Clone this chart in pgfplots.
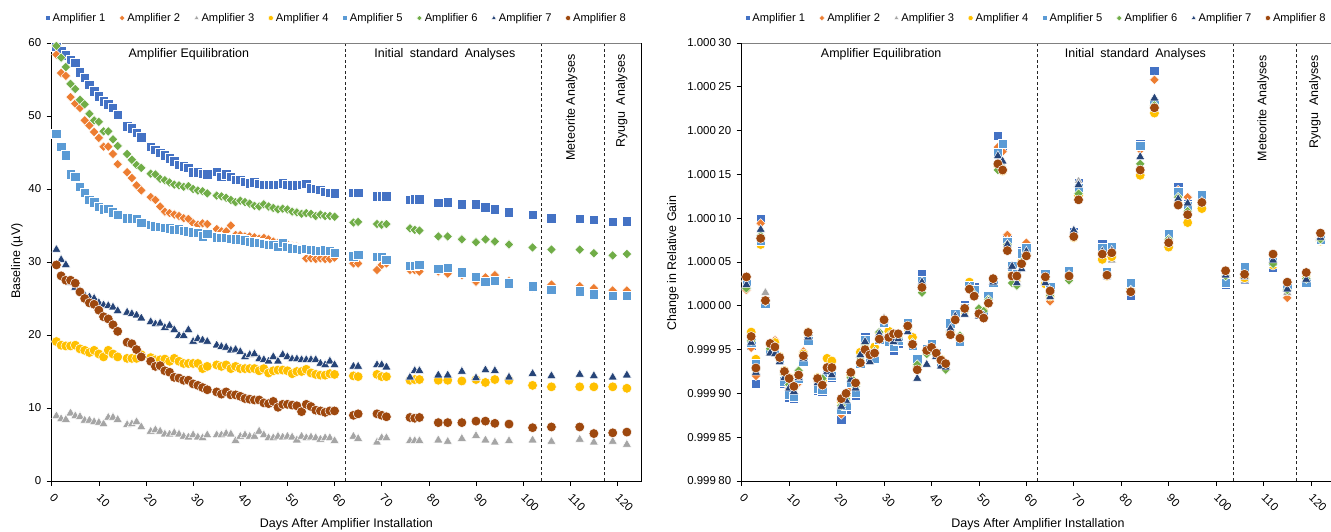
\documentclass[border=0pt]{standalone}
\usepackage{pgfplots}
\pgfplotsset{compat=1.18}
\usepackage{pgfplotstable}
\usepackage{fontspec}
\setmainfont{Liberation Sans}

\definecolor{c1}{HTML}{4472C4}
\definecolor{c2}{HTML}{ED7D31}
\definecolor{c3}{HTML}{A5A5A5}
\definecolor{c4}{HTML}{FFC000}
\definecolor{c5}{HTML}{5B9BD5}
\definecolor{c6}{HTML}{70AD47}
\definecolor{c7}{HTML}{264478}
\definecolor{c8}{HTML}{9E480E}

\newcommand\g{\hspace{2.5bp}}

% Baseline (microvolt) per amplifier
\pgfplotstableread{
day a1 a2 a3 a4 a5 a6 a7 a8
1 59.5 58.4 8.9 19.1 47.6 59.6 31.7 29.6
2 58.9 55.9 8.5 18.6 45.8 58.0 30.3 28.1
3 58.3 55.5 8.4 18.5 44.6 56.7 29.6 27.5
4 57.7 52.6 9.3 18.5 42.0 54.4 27.2 27.5
5 57.3 51.7 8.9 18.6 41.7 53.7 26.5 27.1
6 56.0 51.1 8.8 18.1 40.3 52.2 26.0 25.9
7 55.2 49.4 8.3 17.9 39.5 51.6 25.4 25.0
8 54.3 48.7 8.3 17.6 38.5 50.3 25.2 24.4
9 53.4 47.8 8.1 17.9 38.2 49.4 25.0 24.2
10 52.7 47.0 8.0 17.4 37.6 49.2 24.4 23.4
11 52.0 45.8 7.8 17.0 37.2 47.9 24.1 22.5
12 51.6 45.8 8.7 17.9 37.3 47.9 24.0 22.2
13 51.1 44.8 8.7 17.4 36.8 46.8 23.8 21.4
14 50.2 43.4 8.4 17.0 36.5 45.9 23.3 20.5
16 48.6 42.3 7.7 16.8 36.0 44.8 23.1 19.0
17 48.3 41.5 7.8 16.8 36.0 44.0 22.9 18.8
18 47.7 40.5 8.1 16.8 35.9 43.3 22.7 18.0
19 47.1 39.8 7.4 17.3 35.4 42.9 22.3 17.0
21 45.8 38.9 6.8 16.9 35.1 42.1 21.8 16.4
22 45.4 38.5 7.0 16.6 34.9 42.0 21.5 15.7
23 45.0 37.6 6.8 16.6 34.8 41.4 21.6 15.8
24 44.6 36.9 6.4 16.7 34.7 41.2 21.0 15.1
25 44.2 36.7 6.4 16.4 34.6 40.9 21.3 14.9
26 43.8 36.5 6.6 16.8 34.4 40.6 20.7 14.2
27 43.3 36.3 6.4 16.4 34.5 40.5 19.9 14.1
28 43.1 36.0 6.1 16.1 34.3 40.3 19.9 13.8
29 42.9 35.9 6.0 16.1 34.2 40.4 20.7 13.8
30 42.3 35.3 6.3 16.1 34.1 40.0 19.1 13.3
31 42.3 35.1 6.0 16.1 34.0 39.8 19.5 13.1
32 42.1 35.3 5.9 15.4 33.5 39.7 19.3 12.8
33 42.0 35.2 6.3 15.7 33.9 39.4 19.1 12.5
35 42.4 34.5 6.3 15.9 33.4 39.1 18.6 12.2
36 41.7 34.2 6.3 15.7 33.3 39.0 18.4 11.9
37 42.0 34.2 6.5 15.9 33.3 38.8 18.3 12.2
38 41.7 35.0 6.4 15.4 33.2 38.5 17.9 11.8
39 41.3 33.7 5.5 15.7 33.1 38.2 18.0 11.8
40 41.3 33.7 6.1 15.4 33.1 38.4 17.7 11.6
41 41.0 33.5 6.3 15.4 33.0 38.2 17.0 11.3
42 40.8 33.5 6.1 15.4 32.8 38.0 17.3 11.2
43 40.9 33.4 6.1 15.4 32.7 37.7 17.4 11.1
44 40.7 33.2 6.8 15.1 32.6 37.6 16.7 11.1
45 40.6 33.3 6.3 15.4 32.5 37.9 16.6 10.7
46 40.6 33.1 5.9 14.8 32.4 37.6 16.4 10.6
47 40.6 32.8 5.9 15.1 32.4 37.4 17.0 10.9
48 40.6 32.6 6.1 15.2 32.1 37.2 16.4 10.1
49 40.8 32.5 6.0 15.2 32.6 37.3 17.3 10.5
50 40.6 32.4 6.1 15.1 32.1 37.2 17.0 10.5
51 40.5 32.2 6.0 14.7 31.9 36.9 16.7 10.4
52 40.5 32.1 5.6 15.0 31.8 36.8 16.7 10.3
53 40.6 31.9 6.1 15.0 31.7 36.6 16.6 9.5
54 40.7 30.5 5.9 15.3 31.8 36.7 16.6 10.5
55 40.1 30.5 6.0 14.8 31.7 36.6 16.6 10.2
56 40.0 30.4 5.9 14.6 31.6 36.3 16.6 9.7
57 39.9 30.5 5.7 14.5 31.5 36.5 16.1 9.6
58 39.6 30.4 5.9 14.5 31.6 36.3 15.9 9.4
59 39.5 30.4 5.9 14.7 31.5 36.3 16.4 9.6
60 39.4 30.6 5.5 14.6 31.3 36.2 15.9 9.6
64 39.5 29.8 6.1 14.4 30.8 35.4 15.7 9.0
65 39.5 29.8 5.8 14.3 31.0 35.5 15.7 9.2
69 39.0 28.9 5.3 14.6 30.7 35.2 15.9 9.2
70 39.0 29.6 5.9 14.3 30.7 35.1 15.9 9.0
71 39.0 29.8 5.9 14.3 30.3 35.2 15.6 8.8
76 38.5 28.9 5.5 13.8 29.5 34.6 14.2 8.7
77 38.6 28.9 5.5 13.9 29.5 34.4 15.1 8.6
78 38.6 28.7 5.5 13.9 29.6 34.3 15.1 8.7
82 38.1 28.7 5.6 13.8 29.1 33.5 14.5 8.0
84 38.2 28.4 5.4 13.8 29.2 33.5 14.5 8.0
87 37.9 28.2 5.8 13.7 28.6 33.1 15.0 8.0
90 37.9 27.3 6.2 13.9 28.0 32.7 14.1 8.2
92 37.5 27.9 5.6 13.5 27.3 33.1 15.2 8.2
94 37.2 28.2 5.3 13.9 27.4 32.8 15.1 7.9
97 36.8 27.4 5.5 13.8 27.1 32.4 14.2 7.8
102 36.5 26.5 5.6 13.1 26.7 32.0 14.7 7.3
106 36.0 26.9 5.4 12.9 26.2 31.7 14.4 7.4
112 35.9 26.7 5.7 12.9 26.0 31.7 14.6 7.4
115 35.8 26.4 5.3 12.9 25.6 31.2 14.4 6.5
119 35.5 26.1 5.4 12.9 25.4 30.9 14.2 6.6
122 35.6 26.1 5.0 12.7 25.4 31.1 14.5 6.7
}\baselinetab

% Relative gain, given as (gain - 1) x 1e5
\pgfplotstableread{
day a1 a2 a3 a4 a5 a6 a7 a8
1 2.6 1.8 2.2 2.8 2.5 2.0 2.4 3.3
2 -4.5 -4.8 -3.8 -3.0 -4.2 -4.0 -4.2 -3.5
3 -8.9 -8.0 -7.5 -6.1 -6.6 -7.3 -7.6 -7.1
4 9.9 9.4 8.2 7.0 7.4 8.0 8.7 7.7
5 0.5 0.4 1.5 0.6 0.3 0.5 0.6 0.6
6 -5.0 -4.6 -4.5 -4.4 -5.2 -4.9 -5.4 -4.3
7 -5.2 -3.9 -4.1 -4.2 -5.0 -4.6 -5.5 -4.7
8 -6.4 -6.0 -5.8 -5.8 -6.2 -6.0 -6.4 -5.9
9 -8.9 -7.9 -7.8 -7.4 -8.6 -7.8 -8.2 -7.5
10 -10.5 -9.5 -9.0 -8.2 -10.1 -9.0 -9.4 -8.3
11 -10.6 -10.3 -9.8 -9.0 -10.4 -9.5 -9.8 -9.2
12 -8.4 -8.8 -8.2 -7.8 -8.3 -7.4 -8.2 -7.9
13 -6.5 -5.2 -5.8 -5.5 -6.4 -5.7 -6.0 -5.7
14 -3.8 -3.2 -3.4 -3.0 -4.0 -3.3 -3.6 -3.05
16 -9.7 -8.6 -8.6 -8.2 -9.5 -8.5 -8.8 -8.3
17 -9.8 -8.6 -8.7 -8.5 -9.6 -8.3 -9.0 -9.05
18 -7.6 -7.3 -7.2 -6.0 -7.6 -7.0 -7.5 -7.05
19 -8.2 -7.6 -7.3 -6.3 -8.0 -7.2 -7.9 -7.05
21 -13.0 -12.4 -12.0 -10.9 -11.9 -11.4 -11.5 -10.6
22 -11.8 -11.0 -10.6 -10.2 -11.4 -10.6 -10.8 -10.0
23 -9.0 -9.3 -8.5 -7.9 -8.8 -8.2 -8.4 -7.6
24 -10.2 -9.5 -9.7 -8.9 -9.9 -9.2 -9.4 -8.8
25 -6.7 -6.2 -6.0 -5.3 -6.6 -5.9 -5.6 -6.5
26 -3.6 -4.4 -4.3 -4.8 -3.9 -4.4 -4.1 -5.0
27 -6.0 -5.8 -5.5 -5.4 -5.9 -5.6 -6.4 -5.6
28 -5.9 -5.2 -5.3 -4.7 -6.0 -5.2 -5.5 -5.4
29 -3.9 -3.5 -3.5 -3.3 -3.8 -3.0 -3.2 -3.8
30 -2.0 -1.8 -1.4 -1.6 -1.9 -1.7 -1.7 -1.6
31 -4.1 -3.5 -3.3 -2.9 -4.1 -3.4 -3.7 -3.6
32 -5.1 -3.9 -3.7 -3.2 -4.6 -3.7 -4.1 -3.2
33 -4.3 -3.6 -4.2 -3.4 -4.0 -3.6 -3.8 -3.2
35 -1.8 -2.4 -2.3 -2.5 -2.0 -2.5 -3.0 -2.3
36 -4.5 -4.1 -4.0 -3.6 -4.5 -4.2 -4.4 -4.4
37 -6.2 -7.0 -6.8 -6.8 -6.1 -6.7 -8.3 -7.3
38 3.6 1.9 2.3 2.2 2.8 1.5 2.7 2.1
39 -5.0 -5.3 -5.2 -5.0 -4.9 -5.5 -6.7 -5.1
40 -4.2 -4.6 -4.6 -4.8 -4.3 -4.7 -5.0 -4.75
41 -5.5 -5.6 -5.5 -5.3 -5.4 -5.5 -5.8 -5.4
42 -6.3 -6.5 -6.4 -6.1 -6.6 -6.4 -6.9 -6.2
43 -6.9 -6.8 -6.9 -6.6 -6.8 -7.3 -7.0 -6.6
44 -2.2 -3.0 -2.8 -3.0 -2.0 -2.8 -2.6 -3.3
45 -1.0 -1.4 -1.3 -1.5 -0.9 -1.4 -1.2 -1.6
46 -4.0 -3.5 -3.5 -3.6 -4.1 -3.4 -3.8 -3.7
47 0.1 -0.5 -0.4 -0.6 -0.2 -0.6 -1.0 -0.3
48 2.4 2.2 2.5 2.7 2.3 2.0 2.1 1.9
49 2.2 1.5 1.6 1.4 1.8 1.3 1.0 1.1
50 -0.9 -0.6 -0.7 -0.7 -0.8 -0.3 -1.2 -0.9
51 -1.2 -0.9 -0.8 -0.6 -1.1 -0.6 -1.1 -1.4
52 1.2 0.7 0.8 0.6 1.1 0.7 0.5 0.3
53 2.7 3.0 2.8 2.8 2.6 2.9 2.7 3.1
54 19.4 18.1 16.5 16.0 17.5 15.5 17.1 16.2
55 18.0 17.6 16.0 15.4 18.5 15.7 16.5 15.5
56 7.5 8.1 7.4 6.8 7.3 7.0 7.0 6.3
57 4.2 3.9 3.8 3.6 4.5 2.6 4.5 3.4
58 3.4 3.2 3.0 3.2 3.6 2.3 2.6 3.4
59 6.3 5.5 5.3 5.0 6.0 5.0 4.2 4.8
60 6.5 7.2 6.4 5.8 6.6 6.0 6.2 5.7
64 3.8 3.2 3.1 2.5 3.6 3.0 2.6 3.3
65 2.0 0.5 1.3 1.1 2.2 1.2 1.0 1.7
69 3.9 3.5 3.6 3.3 4.0 2.9 3.5 3.4
70 8.4 8.2 8.5 7.8 8.1 8.0 8.6 7.9
71 14.0 13.6 14.2 12.6 13.5 12.8 13.8 12.1
76 7.1 6.4 6.3 5.3 6.6 6.0 6.2 5.9
77 3.8 3.6 3.7 3.4 3.9 3.5 3.3 3.5
78 6.8 6.4 5.2 5.6 6.7 6.1 6.3 6.05
82 1.2 2.0 2.2 2.0 2.6 1.8 1.7 1.6
84 18.5 17.8 16.0 14.9 18.3 16.2 17.0 15.5
87 26.8 25.8 23.0 22.0 23.2 22.9 23.7 22.6
90 8.0 7.5 7.5 6.7 8.2 7.6 7.4 7.2
92 13.6 13.2 12.6 11.6 13.0 12.4 12.2 11.5
94 11.6 12.4 11.0 9.5 11.4 10.8 11.7 10.4
97 12.5 12.2 12.0 11.1 12.6 11.9 11.9 11.8
102 2.4 3.2 3.3 3.0 2.6 3.4 3.5 4.0
106 3.0 3.8 2.9 3.2 4.4 3.6 3.3 3.6
112 4.4 5.0 4.8 4.65 5.0 4.8 5.2 5.9
115 2.1 0.9 1.5 2.0 2.3 1.8 1.9 2.7
119 2.6 3.0 2.9 3.2 2.7 3.1 3.0 3.8
122 7.6 7.8 7.6 7.4 7.6 7.6 7.8 8.3
}\gaintab

\tikzset{
  sect/.style={font=\fontsize{12.5}{15}\selectfont},
  vsep/.style={black!85, line width=0.8bp, dash pattern=on 3bp off 2.5bp},
}

\pgfplotsset{
  mk/.style={only marks, color=#1, mark options={draw=white, fill=#1, line width=0.5bp}},
  sq/.style 2 args={mk=#1, mark=square*, mark size=#2},
  dm/.style 2 args={only marks, color=#1, mark=square*, mark size=#2,
    mark options={rotate=45, draw=white, fill=#1, line width=0.5bp}},
  tr/.style 2 args={mk=#1, mark=triangle*, mark size=#2},
  ci/.style 2 args={mk=#1, mark=*, mark size=#2},
  panel/.style={
    scale only axis, height=438bp,
    xmin=0, xmax=125, xtick={0,10,...,120},
    tick align=outside, tick pos=left, major tick length=5bp,
    axis line style={black, line width=0.8bp},
    tick style={black, line width=0.6bp},
    ticklabel style={font=\fontsize{11.5}{13}\selectfont},
    /pgf/number format/assume math mode=true,
    xticklabel style={rotate=-45, anchor=west, inner sep=0bp},
    xticklabel shift=10bp,
    yticklabel shift=2bp,
    clip=false,
    legend columns=8,
    legend image code/.code={\draw[##1] plot coordinates {(0bp,0bp)};},
    legend style={draw=none, fill=none, inner sep=0bp,
      font=\fontsize{11.2}{12}\selectfont,
      /tikz/every even column/.append style={column sep=12bp},
      /tikz/every odd column/.append style={column sep=0.5bp}},
  },
}

\newcommand\legendset{%
  \addlegendimage{sq={c1}{2.4bp}}\addlegendentry{Amplifier 1}
  \addlegendimage{dm={c2}{2bp}}\addlegendentry{Amplifier 2}
  \addlegendimage{tr={c3}{2.8bp}}\addlegendentry{Amplifier 3}
  \addlegendimage{ci={c4}{2.6bp}}\addlegendentry{Amplifier 4}
  \addlegendimage{sq={c5}{2.4bp}}\addlegendentry{Amplifier 5}
  \addlegendimage{dm={c6}{2bp}}\addlegendentry{Amplifier 6}
  \addlegendimage{tr={c7}{2.8bp}}\addlegendentry{Amplifier 7}
  \addlegendimage{ci={c8}{2.6bp}}\addlegendentry{Amplifier 8}
}

\newcommand\seriesset[1]{%
  \addplot[sq={c1}{4.7bp}, forget plot] table[x=day, y=a1] {#1};
  \addplot[dm={c2}{3.4bp}, forget plot] table[x=day, y=a2] {#1};
  \addplot[tr={c3}{5.3bp}, forget plot] table[x=day, y=a3] {#1};
  \addplot[ci={c4}{4.9bp}, forget plot] table[x=day, y=a4] {#1};
  \addplot[sq={c5}{4.7bp}, forget plot] table[x=day, y=a5] {#1};
  \addplot[dm={c6}{3.4bp}, forget plot] table[x=day, y=a6] {#1};
  \addplot[tr={c7}{5.3bp}, forget plot] table[x=day, y=a7] {#1};
  \addplot[ci={c8}{4.9bp}, forget plot] table[x=day, y=a8] {#1};
}

\begin{document}
\begin{tikzpicture}
\useasboundingbox (0bp,0bp) rectangle (1331bp,532bp);

% ---- baseline panel ----
\begin{axis}[panel, at={(51.7bp,51bp)}, anchor=south west, width=589.3bp,
  ymin=0, ymax=60, ytick={0,10,...,60},
  legend style={at={(0.4835,1.057)}, anchor=center}]
  \draw[vsep] (axis cs:62.3,0) -- (axis cs:62.3,60);
  \draw[vsep] (axis cs:103.9,0) -- (axis cs:103.9,60);
  \draw[vsep] (axis cs:117.3,0) -- (axis cs:117.3,60);
  \seriesset{\baselinetab}
  \legendset
  \draw[black!50, line width=0.8bp] (rel axis cs:0,1) -- (rel axis cs:1,1);
  \node[sect] at (axis cs:29.1,58.4) {Amplifier Equilibration};
  \node[sect] at (axis cs:83.4,58.4) {Initial\hspace{3bp} standard\hspace{3bp} Analyses};
  \node[sect, rotate=90, anchor=east] at (axis cs:110.3,58.9) {Meteorite Analyses};
  \node[sect, rotate=90, anchor=east] at (axis cs:120.9,58.9) {Ryugu\hspace{3bp} Analyses};
\end{axis}

% ---- relative gain panel ----
\begin{axis}[panel, at={(741.7bp,51bp)}, anchor=south west, width=593bp,
  ymin=-20, ymax=30, ytick={-20,-15,...,30},
  yticklabels={0.999\g80, 0.999\g85, 0.999\g90, 0.999\g95, 1.000\g00,
    1.000\g05, 1.000\g10, 1.000\g15, 1.000\g20, 1.000\g25, 1.000\g30},
  legend style={at={(0.497,1.057)}, anchor=center}]
  \draw[vsep] (axis cs:62.4,-20) -- (axis cs:62.4,30);
  \draw[vsep] (axis cs:103.7,-20) -- (axis cs:103.7,30);
  \draw[vsep] (axis cs:117.0,-20) -- (axis cs:117.0,30);
  \seriesset{\gaintab}
  \legendset
  \draw[black!50, line width=0.8bp] (rel axis cs:0,1) -- (rel axis cs:1,1);
  \node[sect] at (axis cs:29.4,28.7) {Amplifier Equilibration};
  \node[sect] at (axis cs:83.0,28.7) {Initial\hspace{3bp} standard\hspace{3bp} Analyses};
  \node[sect, rotate=90, anchor=east] at (axis cs:109.9,29.0) {Meteorite Analyses};
  \node[sect, rotate=90, anchor=east] at (axis cs:120.8,29.0) {Ryugu\hspace{3bp} Analyses};
\end{axis}

% axis titles
\node[sect, rotate=90] at (17bp,271bp) {Baseline (µV)};
\node[sect, rotate=90] at (673bp,269bp) {Change in Relative Gain};
\node[sect] at (346.4bp,8bp) {Days After Amplifier Installation};
\node[sect] at (1038bp,8bp) {Days After Amplifier Installation};
\end{tikzpicture}
\end{document}
